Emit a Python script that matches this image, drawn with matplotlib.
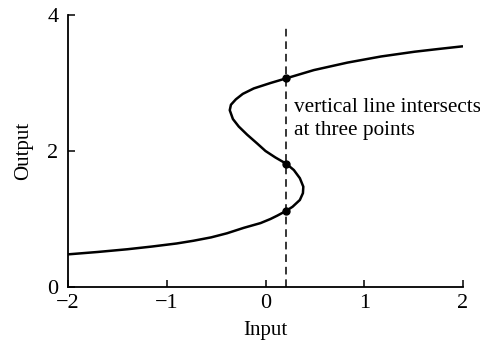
import matplotlib
matplotlib.use("Agg")
import matplotlib.pyplot as plt

# Curve points (Input, Output)
curve_input = [-2.00, -1.70, -1.40, -1.15, -0.90, -0.73, -0.55, -0.39, -0.22, -0.05,
               0.05, 0.12, 0.21, 0.274, 0.348, 0.379, 0.383, 0.348, 0.287, 0.213,
               0.10, 0.00, -0.084, -0.186, -0.271, -0.330, -0.362, -0.350, -0.300, -0.230,
               -0.119, 0.051, 0.213, 0.49, 0.83, 1.17, 1.51, 1.75, 2.00]
curve_output = [0.48, 0.515, 0.555, 0.595, 0.64, 0.68, 0.73, 0.79, 0.87, 0.94,
                1.00, 1.05, 1.12, 1.18, 1.28, 1.38, 1.475, 1.60, 1.72, 1.81,
                1.905, 2.00, 2.11, 2.24, 2.36, 2.47, 2.60, 2.68, 2.76, 2.84,
                2.92, 3.00, 3.07, 3.19, 3.30, 3.39, 3.46, 3.50, 3.54]

vline_x = 0.21
vline_top = 3.82
intersect_output = [1.12, 1.81, 3.07]

xticks = [-2, -1, 0, 1, 2]
yticks = [0, 2, 4]
annotation = "vertical line intersects\nat three points"

plt.rcParams['font.family'] = ['Liberation Serif', 'DejaVu Serif']
plt.rcParams['axes.unicode_minus'] = True

fig = plt.figure(figsize=(4.81, 3.54), dpi=100)
ax = fig.add_axes([68/481, 1-287/354, (463-68)/481, (287-15)/354])

ax.plot(curve_input, curve_output, color='black', lw=1.8, solid_capstyle='butt',
        solid_joinstyle='round')
ax.plot([vline_x, vline_x], [0, vline_top], color='black', lw=1.1, dashes=(5, 3.2))
ax.plot([vline_x]*len(intersect_output), intersect_output, 'o', color='black', ms=5)

ax.text(0.29, 2.78, annotation, fontsize=15.3, va='top', ha='left', linespacing=1.3)

ax.set_xlim(-2, 2)
ax.set_ylim(0, 4)
ax.set_xticks(xticks)
ax.set_yticks(yticks)
ax.set_xticklabels([f"{t}".replace('-', '\u2212') for t in xticks])
ax.set_yticklabels([str(t) for t in yticks])
for s in ['top', 'right']:
    ax.spines[s].set_visible(False)
for s in ['left', 'bottom']:
    ax.spines[s].set_linewidth(1.3)
ax.tick_params(direction='in', length=5, width=1.1, labelsize=16)
ax.tick_params(axis='x', pad=5)
ax.tick_params(axis='y', pad=7)
ax.set_xlabel('Input', fontsize=15, labelpad=6)
ax.set_ylabel('Output', fontsize=15, labelpad=10)

fig.savefig('out.png', dpi=100)
